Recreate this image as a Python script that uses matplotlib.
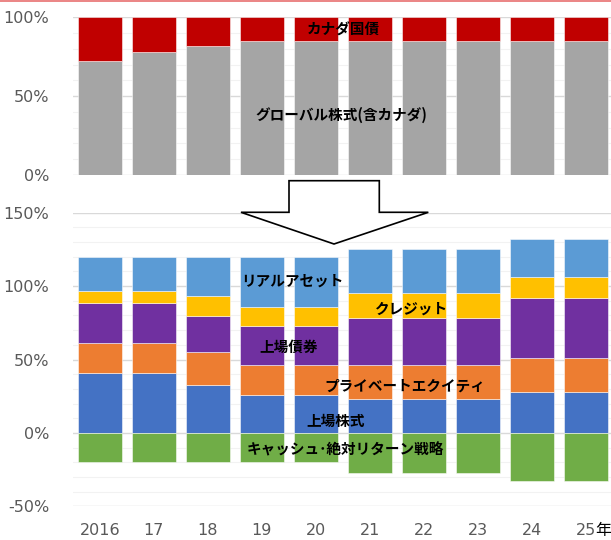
import numpy as np
import matplotlib
matplotlib.use("Agg")
import matplotlib.pyplot as plt
from matplotlib.patches import Polygon
from matplotlib.lines import Line2D

plt.rcParams['font.family'] = ['DejaVu Sans', 'Noto Sans CJK JP']

# x categories
years = ['2016', '17', '18', '19', '20', '21', '22', '23', '24', '25']

# top panel (before)
global_equity = [72, 78, 82, 85, 85, 85, 85, 85, 85, 85]
canada_bonds = [28, 22, 18, 15, 15, 15, 15, 15, 15, 15]

# bottom panel (after)
public_equity = [41, 41, 32.5, 25.5, 25.5, 23, 23, 23, 28, 28]
private_equity = [20.5, 20.5, 22.5, 20.5, 20.5, 23, 23, 23, 23, 23]
public_bonds = [27, 27, 24.5, 26.5, 26.5, 32, 32, 32, 41, 41]
credit = [8.5, 8.5, 14, 13.5, 13.5, 17.5, 17.5, 17.5, 14, 14]
real_assets = [23, 23, 26.5, 34, 34, 30, 30, 30, 26, 26]
cash_absolute = [-20, -20, -20, -20, -20, -27.5, -27.5, -27.5, -32.5, -32.5]

W, H = 611, 540
fig = plt.figure(figsize=(W / 100, H / 100), dpi=100)

left = 72.7 / W
width = 540 / W
ax1 = fig.add_axes([left, 1 - 175 / H, width, (175 - 17.3) / H])
ax2 = fig.add_axes([left, 1 - 506.3 / H, width, (506.3 - 212.7) / H])

x = np.arange(len(years))
bw = 0.815
edge = dict(edgecolor=(1, 1, 1, 0.6), linewidth=0.6, zorder=3)

# top chart
ax1.bar(x, global_equity, bw, color='#A5A5A5', **edge)
ax1.bar(x, canada_bonds, bw, bottom=global_equity, color='#C00000', **edge)
ax1.set_ylim(0, 100)
ax1.set_yticks([0, 50, 100])
ax1.set_yticklabels(['0%', '50%', '100%'])
ax1.set_yticks(np.arange(0, 101, 10), minor=True)
ax1.set_xticks([])

# bottom chart
layers = [
    (public_equity, '#4472C4'),
    (private_equity, '#ED7D31'),
    (public_bonds, '#7030A0'),
    (credit, '#FFC000'),
    (real_assets, '#5B9BD5'),
]
bottom = np.zeros(len(years))
for vals, col in layers:
    ax2.bar(x, vals, bw, bottom=bottom, color=col, **edge)
    bottom += np.array(vals)
ax2.bar(x, cash_absolute, bw, color='#70AD47', **edge)
ax2.set_ylim(-50, 150)
ax2.set_yticks([-50, 0, 50, 100, 150])
ax2.set_yticklabels(['-50%', '0%', '50%', '100%', '150%'])
ax2.set_yticks(np.arange(-50, 151, 10), minor=True)
ax2.set_xticks(x)
ax2.set_xticklabels(years)

for ax in (ax1, ax2):
    ax.set_xlim(-0.5, 9.5)
    for s in ax.spines.values():
        s.set_visible(False)
    ax.tick_params(axis='both', which='both', length=0)
    ax.tick_params(axis='y', labelsize=11.5, labelcolor='#595959', pad=17)
    ax.tick_params(axis='x', labelsize=11.5, labelcolor='#595959', pad=12)
    ax.grid(axis='y', which='minor', color='#F2F2F2', linewidth=0.8, zorder=0)
    ax.grid(axis='y', which='major', color='#D9D9D9', linewidth=1.0, zorder=1)
    ax.set_axisbelow(True)

jp = dict(family=['Noto Sans CJK JP'], fontweight='bold', fontsize=10.5,
          ha='center', va='center', color='black', zorder=6)
ax1.text(4.52, 92, 'カナダ国債', **jp)
ax1.text(4.47, 38, 'グローバル株式(含カナダ)', **jp)
ax2.text(3.56, 103.4, 'リアルアセット', **jp)
ax2.text(5.78, 84.6, 'クレジット', **jp)
ax2.text(3.5, 58.9, '上場債券', **jp)
ax2.text(5.66, 32.4, 'プライベートエクイティ', **jp)
ax2.text(4.37, 8.5, '上場株式', **jp)
ax2.text(4.54, -11.4, 'キャッシュ\uff65絶対リターン戦略', **jp)

# "年" after the last year label
fig.text(603 / W, 1 - 530 / H, '年', family=['Noto Sans CJK JP'],
         fontsize=11.5, color='black', ha='center', va='center')

# arrow between the two charts
pts = [(289, 180.7), (379.3, 180.7), (379.3, 212.3), (428.3, 212.3),
       (334, 244), (241, 212.3), (289, 212.3)]
arrow = Polygon([(px / W, 1 - py / H) for px, py in pts], closed=True,
                transform=fig.transFigure, facecolor='white',
                edgecolor='black', linewidth=1.2, zorder=10)
fig.patches.append(arrow)

# thin red line at the very top
fig.lines.append(Line2D([0, 1], [1 - 0.8 / H, 1 - 0.8 / H],
                        transform=fig.transFigure, color='#E87070', linewidth=1.2))

fig.savefig('out.png', dpi=100)
